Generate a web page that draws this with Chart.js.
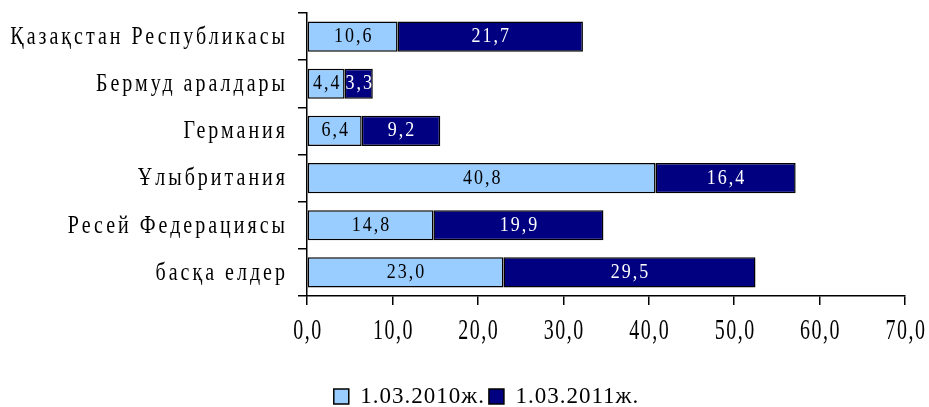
<!DOCTYPE html>
<html>
<head>
<meta charset="utf-8">
<script src="https://cdn.jsdelivr.net/npm/chart.js@4/dist/chart.umd.min.js"></script>
<style>
  body { margin: 0; background: #fff; }
  #wrap { width: 929px; height: 407px; }
</style>
</head>
<body>
<div id="wrap"><canvas id="myChart"></canvas></div>
<script>
var categories = ["Қазақстан Республикасы", "Бермуд аралдары", "Германия", "Ұлыбритания", "Ресей Федерациясы", "басқа елдер"];
var values2010 = [10.6, 4.4, 6.4, 40.8, 14.8, 23.0];
var values2011 = [21.7, 3.3, 9.2, 16.4, 19.9, 29.5];
var seriesNames = ["1.03.2010ж.", "1.03.2011ж."];
var xTicks = [0, 10, 20, 30, 40, 50, 60, 70];

var fontFamily = "'Liberation Serif', 'Times New Roman', serif";
var hidden = "rgba(0,0,0,0)";

function fmt(v) {
    return v.toFixed(1).replace(".", ",");
}

// the original text is tall and narrow, so it is drawn stretched
function tallText(ctx, text, x, y, align, size, spacing, stretch, color) {
    ctx.save();
    ctx.translate(x, y);
    ctx.scale(1, stretch);
    ctx.font = size + "px " + fontFamily;
    ctx.letterSpacing = spacing + "px";
    ctx.textAlign = align;
    ctx.textBaseline = "middle";
    ctx.fillStyle = color;
    ctx.fillText(text, 0, 0);
    ctx.restore();
}

var textPlugin = {
    id: "tallLabels",
    beforeUpdate: function (chart) { chart.ctx.letterSpacing = "1px"; },
    beforeDraw: function (chart) { chart.ctx.letterSpacing = "1px"; },
    afterLayout: function (chart) {
        // move the legend down and a little right, as in the original
        var lg = chart.legend;
        lg.top += 11; lg.bottom += 11;
        lg.left += 22; lg.right += 22;
    },
    afterDatasetsDraw: function (chart) {
        var ctx = chart.ctx;
        chart.data.datasets.forEach(function (ds, i) {
            chart.getDatasetMeta(i).data.forEach(function (bar, j) {
                var cx = (bar.x + bar.base) / 2 + 1;
                tallText(ctx, fmt(ds.data[j]), cx, bar.y, "center", 18, 2, 1.15, i === 0 ? "#000" : "#fff");
            });
        });
    },
    afterDraw: function (chart) {
        var ctx = chart.ctx;
        var xs = chart.scales.x, ys = chart.scales.y;
        xs.ticks.forEach(function (t, i) {
            tallText(ctx, fmt(t.value), xs.getPixelForTick(i) + 1, xs.top + 36, "center", 20, 1.5, 1.42, "#000");
        });
        ys.ticks.forEach(function (t, i) {
            tallText(ctx, categories[i], ys.right - 19, ys.getPixelForTick(i) + 1, "right", 20, 3, 1.22, "#000");
        });
    }
};

new Chart("myChart", {
    type: "bar",
    data: {
        labels: categories,
        datasets: [
            {
                label: seriesNames[0],
                data: values2010,
                backgroundColor: "#99CCFF",
                borderColor: "#000",
                borderWidth: 1.5,
                borderSkipped: false
            },
            {
                label: seriesNames[1],
                data: values2011,
                backgroundColor: "#000080",
                borderColor: "#000",
                borderWidth: 1.5,
                borderSkipped: false
            }
        ]
    },
    options: {
        indexAxis: "y",
        responsive: true,
        maintainAspectRatio: false,
        animation: false,
        categoryPercentage: 1,
        barPercentage: 0.64,
        layout: { padding: 0 },
        plugins: {
            tooltip: { enabled: false },
            legend: {
                position: "bottom",
                labels: {
                    color: "#000",
                    font: { family: fontFamily, size: 23 },
                    boxWidth: 15,
                    boxHeight: 15,
                    padding: 4
                }
            }
        },
        scales: {
            x: {
                stacked: true,
                min: 0,
                max: 70,
                afterBuildTicks: function (scale) {
                    scale.ticks = xTicks.map(function (v) { return { value: v }; });
                },
                afterFit: function (scale) {
                    scale.height = 74;
                    scale.paddingLeft = 0;
                    scale.paddingRight = 24;
                },
                border: { color: "#000", width: 1.5 },
                grid: { drawOnChartArea: false, drawTicks: true, tickLength: 9, color: "#000", lineWidth: 1.5 },
                ticks: {
                    color: hidden,
                    font: { family: fontFamily, size: 20 },
                    maxRotation: 0,
                    callback: function (v) { return fmt(v); }
                }
            },
            y: {
                stacked: true,
                afterFit: function (scale) {
                    scale.width = 307;
                    scale.paddingTop = 13;
                    scale.paddingBottom = 0;
                },
                border: { color: "#000", width: 1.5 },
                grid: { drawOnChartArea: false, drawTicks: true, tickLength: 9, color: "#000", lineWidth: 1.5, offset: true },
                ticks: {
                    color: hidden,
                    font: { family: fontFamily, size: 20 }
                }
            }
        }
    },
    plugins: [textPlugin]
});
</script>
</body>
</html>
